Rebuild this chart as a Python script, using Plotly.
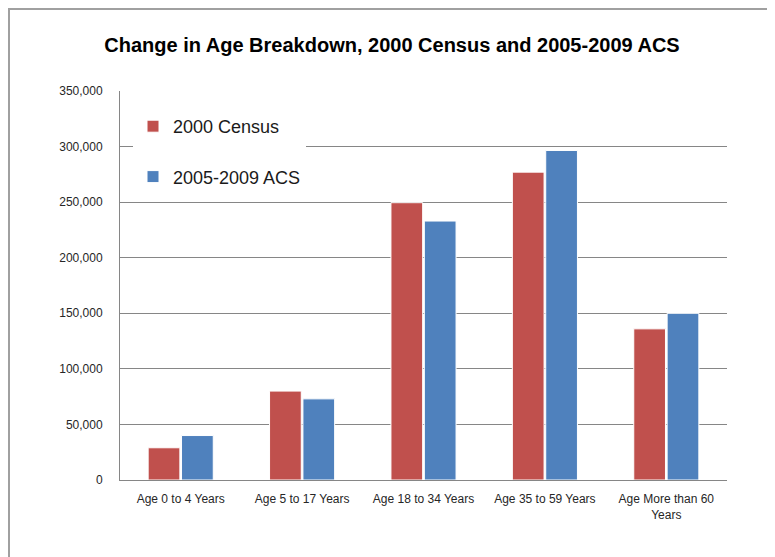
import plotly.graph_objects as go

categories = ["Age 0 to 4 Years", "Age 5 to 17 Years", "Age 18 to 34 Years",
              "Age 35 to 59 Years", "Age More than 60<br>Years"]
census_2000 = [29000, 80000, 249500, 277000, 136000]
acs_2005_2009 = [40000, 73000, 233000, 296500, 150000]
y_ticks = [0, 50000, 100000, 150000, 200000, 250000, 300000, 350000]
y_tick_labels = ["0", "50,000", "100,000", "150,000", "200,000", "250,000", "300,000", "350,000"]

OFF = 8  # page body margin
W, H = 775 - OFF, 557 - OFF
# target plot area in page coordinates
PL, PR, PT, PB = 120, 727, 91, 480
ml, mt = PL - OFF, PT - OFF
mr = W - (PR - OFF)
mb = H - (PB - OFF)
pw, ph = W - ml - mr, H - mt - mb

font_family = "Liberation Sans Narrow, Arial Narrow, Liberation Sans, Arial, sans-serif"


def px_x(x):  # page x -> paper
    return (x - PL) / pw


def px_y(y):  # page y -> paper
    return (PB - y) / ph


fig = go.Figure()
fig.add_trace(go.Bar(x=categories, y=census_2000, name="2000 Census",
                     marker=dict(color="#C0504D", line=dict(color="#FFFFFF", width=1)),
                     legendgroup="a"))
fig.add_trace(go.Bar(x=categories, y=acs_2005_2009, name="2005-2009 ACS",
                     marker=dict(color="#4F81BD", line=dict(color="#FFFFFF", width=1)),
                     legendgroup="b"))

fig.update_layout(
    width=W, height=H,
    margin=dict(l=ml, r=mr, t=mt, b=mb),
    paper_bgcolor="white", plot_bgcolor="white",
    barmode="group", bargap=0.45, bargroupgap=0.05,
    font=dict(family=font_family, color="#262626"),
    title=dict(text="<b>Change in Age Breakdown, 2000 Census and 2005-2009 ACS</b>",
               x=(392 - OFF) / W, xref="container", xanchor="center",
               y=1 - (45 - OFF) / H, yref="container", yanchor="middle",
               font=dict(size=20, color="#000000", family=font_family)),
    legend=dict(x=px_x(133), y=px_y(108), xanchor="left", yanchor="top",
                bgcolor="white", font=dict(size=18, color="#1a1a1a", family=font_family),
                tracegroupgap=24, itemwidth=30),
    xaxis=dict(showline=True, linecolor="#868686", linewidth=1,
               tickfont=dict(size=12, color="#262626"), ticks="",
               ticklabelstandoff=8, showgrid=False),
    yaxis=dict(range=[0, 350000], tickvals=y_ticks, ticktext=y_tick_labels,
               showgrid=True, gridcolor="#868686", gridwidth=1,
               showline=True, linecolor="#868686", linewidth=1,
               tickfont=dict(size=12, color="#262626"), ticks="",
               ticklabelstandoff=14, zeroline=False),
    shapes=[dict(type="rect", xref="paper", yref="paper",
                 x0=px_x(9), x1=px_x(773), y0=px_y(H + 40), y1=px_y(OFF + 1),
                 line=dict(color="#A0A0A0", width=2), fillcolor="rgba(0,0,0,0)",
                 layer="below")],
)

fig.write_html("out.html")
